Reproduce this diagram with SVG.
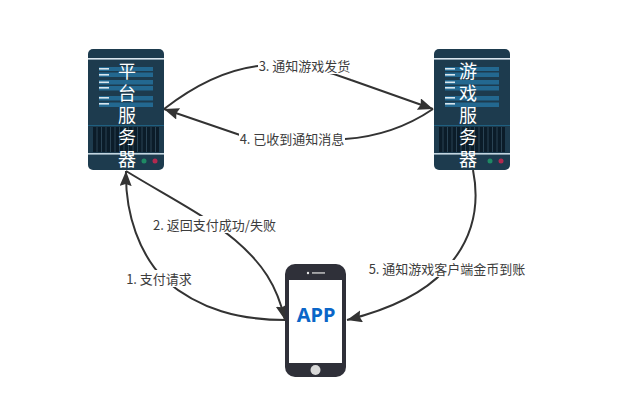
<svg xmlns="http://www.w3.org/2000/svg" width="622" height="408" viewBox="0 0 622 408">
<style>
text{font-family:"Noto Sans CJK SC","Noto Sans",sans-serif}
.lbl{font-size:13px;fill:#3c3c3c;text-anchor:middle;dominant-baseline:central}
.bg{fill:#fff}
.c{fill:none;stroke:#333;stroke-width:2}
.nt{font-size:18px;fill:#fff;text-anchor:middle}
.bar{fill:#236890}
.dash{fill:#d8e6ee}
</style>
<defs>
<marker id="a" markerUnits="userSpaceOnUse" markerWidth="18" markerHeight="14" refX="15" refY="6" orient="auto"><path d="M0 0L15 6L0 12L2 6Z" fill="#333"/></marker>
<g id="srv">
<rect x="0" y="0" width="76" height="121" rx="5" fill="#1d3b4e"/>
<rect x="0" y="9" width="76" height="1.6" fill="#dbe6ee"/>
<rect x="0" y="76" width="76" height="1" fill="#1f5f80"/>
<rect x="0" y="104" width="76" height="1.6" fill="#c4d6e0"/>
<rect x="5" y="78" width="66" height="25" fill="#0b1c29"/>
<path d="M9 78v25M13.500 78v25M18 78v25M22.500 78v25M27 78v25M31.500 78v25M36 78v25M40.500 78v25M45 78v25M49.500 78v25M54 78v25M58.500 78v25M63 78v25M67.500 78v25" stroke="#2a4354" stroke-width="1"/>
<rect class="bar" x="11" y="18" width="54" height="4"/><rect class="bar" x="11" y="23.500" width="54" height="4.500"/>
<rect class="bar" x="11" y="31" width="54" height="4.500"/><rect class="bar" x="11" y="37" width="54" height="4.500"/>
<rect class="bar" x="11" y="47" width="54" height="4.500"/><rect class="bar" x="11" y="53.500" width="54" height="4.500"/>
<rect class="dash" x="11" y="19" width="10" height="1.600"/><rect class="dash" x="11" y="25" width="10" height="1.600"/>
<rect class="dash" x="11" y="32.500" width="10" height="1.600"/><rect class="dash" x="11" y="38" width="10" height="1.600"/>
<rect class="dash" x="11" y="48" width="10" height="1.600"/><rect class="dash" x="11" y="54" width="10" height="1.600"/>
<circle cx="56" cy="112" r="2.500" fill="#1f8a64"/><circle cx="67" cy="112" r="2.500" fill="#b2294f"/>
</g>
</defs>
<g id="connectors">
<path class="c" marker-end="url(#a)" d="M286 320C240 320 200 310 165 280C140 255 125 215 126 171"/>
<path class="c" marker-end="url(#a)" d="M126 171C165 195 205 215 235 240C262 263 277 285 285 320"/>
<path class="c" marker-end="url(#a)" d="M164 109C195 85 225 70 258 66C290 63 320 68 351 80L433 109"/>
<path class="c" marker-end="url(#a)" d="M433 109C405 128 375 137 345 139C300 142 270 143 240 135L164 109"/>
<path class="c" marker-end="url(#a)" d="M473 170C480 205 473 240 445 270C425 292 395 308 347 320"/>
</g>
<g id="edge-labels">
<rect class="bg" x="258" y="57" width="93" height="17"/><text class="lbl" x="304.500" y="65">3. 通知游戏发货</text>
<rect class="bg" x="239" y="130" width="106" height="17"/><text class="lbl" x="292" y="138">4. 已收到通知消息</text>
<rect class="bg" x="152" y="216" width="125" height="17"/><text class="lbl" x="214.500" y="224">2. 返回支付成功/失败</text>
<rect class="bg" x="126" y="270" width="66" height="17"/><text class="lbl" x="159" y="278">1. 支付请求</text>
<rect class="bg" x="368" y="260" width="158" height="17"/><text class="lbl" x="447" y="268">5. 通知游戏客户端金币到账</text>
</g>
<g id="platform-server">
<use href="#srv" x="88" y="49"/>
<text class="nt" y="78"><tspan x="127">平</tspan><tspan x="127" dy="22">台</tspan><tspan x="127" dy="22">服</tspan><tspan x="127" dy="22">务</tspan><tspan x="127" dy="22">器</tspan></text>
</g>
<g id="game-server">
<use href="#srv" x="434" y="49"/>
<text class="nt" y="78"><tspan x="468">游</tspan><tspan x="468" dy="22">戏</tspan><tspan x="468" dy="22">服</tspan><tspan x="468" dy="22">务</tspan><tspan x="468" dy="22">器</tspan></text>
</g>
<g id="app">
<rect x="285" y="264" width="61" height="113" rx="10" fill="#2f3039"/>
<rect x="289" y="280" width="53" height="83" fill="#fff"/>
<circle cx="308" cy="273" r="1.200" fill="#e8e8e8"/>
<rect x="312" y="272.300" width="13" height="1.300" fill="#d8d8d8"/>
<circle cx="315.500" cy="370" r="5" fill="#d9d9d9"/>
<text x="316" y="322" text-anchor="middle" font-size="20" font-weight="700" fill="#0a66c8" style="font-family:'Noto Sans',sans-serif">APP</text>
</g>
</svg>
